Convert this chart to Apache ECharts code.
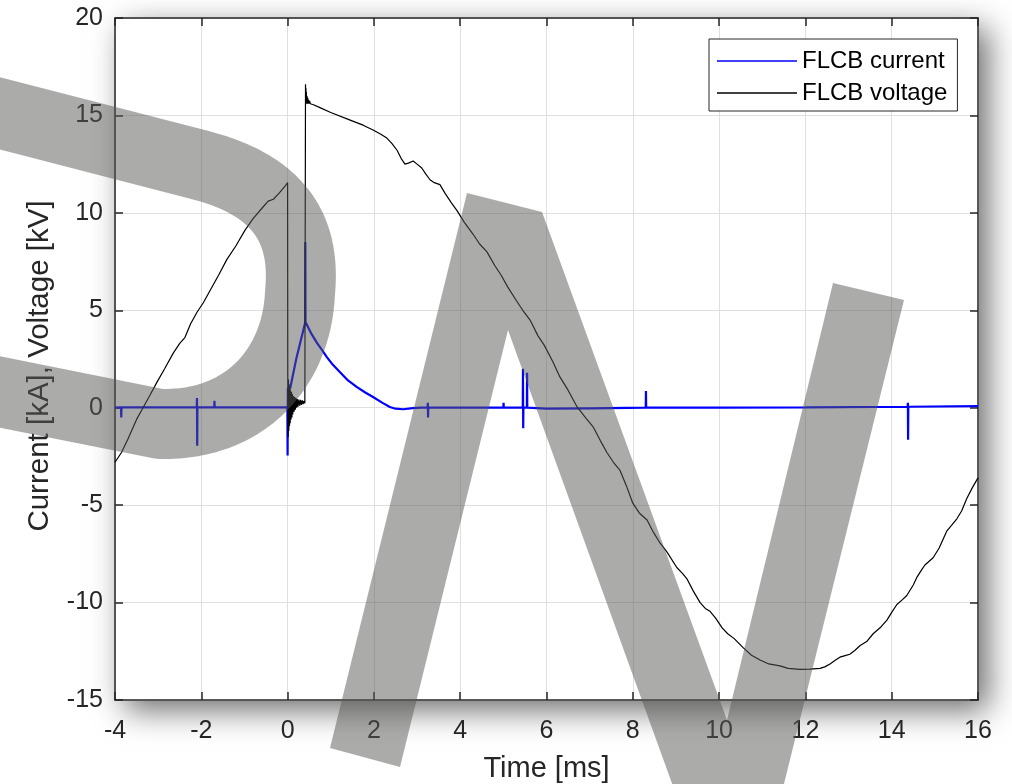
<!DOCTYPE html>
<html>
<head>
<meta charset="utf-8">
<script src="https://cdn.jsdelivr.net/npm/echarts@6/dist/echarts.min.js"></script>
<style>
html,body{margin:0;padding:0;background:#fff;}
#chart{width:1012px;height:784px;}
</style>
</head>
<body>
<div id="chart"></div>
<script>
// ---- data ----
const seriesNames = ['FLCB current', 'FLCB voltage'];
const xTicks = [-4, -2, 0, 2, 4, 6, 8, 10, 12, 14, 16];
const yTicks = [-15, -10, -5, 0, 5, 10, 15, 20];

// FLCB current [kA] vs time [ms]
const currentPts = [
  [-4.0, 0.0], [-3.86, 0.02], [-3.855, -0.5], [-3.85, 0.02], [-3.0, 0.02],
  [-2.105, 0.02], [-2.1, 0.5], [-2.095, -1.95], [-2.09, 0.02],
  [-1.7, 0.02], [-1.695, 0.35], [-1.69, 0.02], [-0.005, 0.02],
  [0.0, -2.45], [0.006, 1.0], [0.06, 1.0], [0.2, 2.5], [0.405, 4.35],
  [0.41, 8.5], [0.415, 4.4], [0.45, 4.3], [0.55, 3.8], [0.68, 3.33],
  [0.8, 2.95], [0.91, 2.6], [1.05, 2.2], [1.21, 1.83], [1.4, 1.4],
  [1.6, 1.07], [1.8, 0.78], [1.98, 0.55], [2.2, 0.25], [2.37, 0.04],
  [2.5, -0.05], [2.68, -0.08], [2.9, -0.02], [3.1, 0.0],
  [3.245, 0.0], [3.25, 0.25], [3.255, -0.5], [3.26, 0.0],
  [4.0, 0.0], [5.0, 0.0], [5.005, 0.25], [5.01, 0.0],
  [5.45, 0.0], [5.455, 2.0], [5.46, -1.05], [5.465, 0.0],
  [5.545, 0.0], [5.55, 1.8], [5.555, 0.0],
  [6.0, -0.05], [7.0, -0.03], [8.3, 0.0], [8.305, 0.86], [8.31, 0.0],
  [10.0, 0.0], [12.0, 0.02], [14.37, 0.05], [14.375, 0.25], [14.38, -1.65],
  [14.385, 0.05], [16.0, 0.08]
];

// FLCB voltage [kV] vs time [ms]
const voltagePts = [
  [-4.0, -2.8], [-3.85, -2.3], [-3.7, -1.6], [-3.5, -0.6], [-3.35, 0.0],
  [-3.2, 0.6], [-3.03, 1.3], [-2.85, 2.0], [-2.65, 2.8], [-2.5, 3.3],
  [-2.38, 3.6], [-2.25, 4.3], [-2.1, 4.9], [-1.95, 5.4], [-1.8, 6.0],
  [-1.6, 6.8], [-1.41, 7.6], [-1.2, 8.3], [-0.99, 9.1], [-0.8, 9.7],
  [-0.57, 10.3], [-0.45, 10.6], [-0.33, 10.7], [-0.2, 11.0], [-0.05, 11.4],
  [0.0, 11.55],
  [0.004, 1.8], [0.012, -1.5], [0.02, 1.45], [0.028, -1.2], [0.036, 1.2],
  [0.044, -0.95], [0.052, 1.0], [0.06, -0.8], [0.07, 0.9], [0.08, -0.6],
  [0.09, 0.8], [0.10, -0.5], [0.11, 0.7], [0.12, -0.35], [0.135, 0.6],
  [0.15, -0.2], [0.165, 0.55], [0.18, -0.1], [0.195, 0.5], [0.21, 0.0],
  [0.225, 0.45], [0.24, 0.05], [0.26, 0.42], [0.28, 0.1], [0.30, 0.4],
  [0.32, 0.15], [0.34, 0.38], [0.36, 0.18], [0.38, 0.35], [0.40, 0.22],
  [0.41, 0.3],
  [0.415, 16.6], [0.42, 15.6], [0.425, 16.4], [0.43, 15.6], [0.435, 16.2],
  [0.442, 15.6], [0.45, 16.0], [0.458, 15.6], [0.467, 15.9], [0.476, 15.6],
  [0.486, 15.8], [0.497, 15.6], [0.51, 15.75], [0.525, 15.6], [0.545, 15.68],
  [0.57, 15.55], [0.6, 15.55],
  [0.75, 15.4], [1.0, 15.15], [1.45, 14.76], [1.75, 14.5], [1.98, 14.25],
  [2.15, 14.05], [2.3, 13.84], [2.42, 13.55], [2.54, 13.2], [2.63, 12.8],
  [2.72, 12.5], [2.8, 12.55], [2.91, 12.66], [3.0, 12.5], [3.11, 12.3],
  [3.2, 12.0], [3.3, 11.7], [3.4, 11.55], [3.53, 11.45], [3.65, 11.0],
  [3.8, 10.5], [3.93, 10.1], [4.1, 9.5], [4.3, 8.9], [4.45, 8.4],
  [4.62, 8.0], [4.8, 7.3], [4.95, 6.8], [5.1, 6.2], [5.3, 5.5],
  [5.45, 5.0], [5.62, 4.5], [5.8, 3.7], [5.95, 3.2], [6.15, 2.35],
  [6.31, 1.58], [6.5, 0.9], [6.71, 0.04], [6.9, -0.5], [7.08, -0.98],
  [7.25, -1.7], [7.40, -2.3], [7.55, -2.8], [7.70, -3.2], [7.85, -4.0],
  [8.0, -4.9], [8.15, -5.4], [8.33, -5.76], [8.48, -6.4], [8.63, -6.94],
  [8.79, -7.4], [9.02, -8.2], [9.15, -8.5], [9.26, -8.8], [9.4, -9.4],
  [9.56, -10.0], [9.68, -10.3], [9.79, -10.45], [9.92, -10.8], [10.07, -11.3],
  [10.2, -11.6], [10.35, -11.85], [10.55, -12.3], [10.75, -12.7], [10.95, -12.95],
  [11.15, -13.15], [11.41, -13.25], [11.6, -13.38], [11.87, -13.43], [12.1, -13.42],
  [12.34, -13.38], [12.45, -13.3], [12.57, -13.15], [12.7, -12.95], [12.8, -12.8],
  [12.92, -12.72], [13.03, -12.65], [13.15, -12.45], [13.27, -12.2], [13.42, -12.0],
  [13.57, -11.6], [13.75, -11.25], [13.89, -10.9], [14.0, -10.5], [14.12, -10.1],
  [14.25, -9.85], [14.35, -9.64], [14.5, -9.1], [14.59, -8.68], [14.7, -8.3],
  [14.77, -8.07], [14.96, -7.7], [15.1, -7.2], [15.28, -6.32], [15.4, -6.0],
  [15.51, -5.7], [15.62, -5.3], [15.74, -4.66], [15.87, -4.1], [16.0, -3.6]
];

// ---- chart ----
const FONT = '"Liberation Sans", Arial, Helvetica, sans-serif';
const AX = '#262626';
const GRIDC = '#dfdfdf';
const WM = 'rgba(89,88,87,0.506)';

// watermark "D" stroke centreline (pixel geometry of the overlay, not data)
function cubicPts(p0, p1, p2, p3, n) {
  const out = [];
  for (let i = 1; i <= n; i++) {
    const t = i / n, u = 1 - t;
    out.push([
      u*u*u*p0[0] + 3*u*u*t*p1[0] + 3*u*t*t*p2[0] + t*t*t*p3[0],
      u*u*u*p0[1] + 3*u*u*t*p1[1] + 3*u*t*t*p2[1] + t*t*t*p3[1]
    ]);
  }
  return out;
}
const dLine = [[-40, 103], [200, 165]]
  .concat(cubicPts([200, 165], [290, 188], [305, 240], [300, 293], 30))
  .concat(cubicPts([300, 293], [297, 365], [248, 426], [160, 424], 30))
  .concat([[-40, 384]]);

const chart = echarts.init(document.getElementById('chart'), null, {renderer: 'canvas'});

function baseX(pos, labels) {
  return {
    type: 'value', min: xTicks[0], max: xTicks[xTicks.length - 1], interval: 2,
    position: pos,
    axisLine: {show: true, onZero: false, lineStyle: {color: AX, width: 1.5}},
    axisTick: {show: true, inside: true, length: 8, lineStyle: {color: AX, width: 1.5}},
    axisLabel: {show: labels, fontSize: 25, color: AX, margin: 19, fontFamily: FONT},
    splitLine: {show: labels, lineStyle: {color: GRIDC, width: 1}}
  };
}
function baseY(pos, labels) {
  return {
    type: 'value', min: yTicks[0], max: yTicks[yTicks.length - 1], interval: 5,
    position: pos,
    axisLine: {show: true, onZero: false, lineStyle: {color: AX, width: 1.5}},
    axisTick: {show: true, inside: true, length: 8, lineStyle: {color: AX, width: 1.5}},
    axisLabel: {show: labels, fontSize: 25, color: AX, margin: 12, fontFamily: FONT},
    splitLine: {show: labels, lineStyle: {color: GRIDC, width: 1}}
  };
}

const xb = baseX('bottom', true);
xb.name = 'Time [ms]';
xb.nameLocation = 'middle';
xb.nameGap = 54;
xb.nameTextStyle = {fontSize: 29, color: AX, fontFamily: FONT};
const xt = baseX('top', false);

const yl = baseY('left', true);
yl.name = 'Current [kA], Voltage [kV]';
yl.nameLocation = 'middle';
yl.nameGap = 60;
yl.nameTextStyle = {fontSize: 29.5, color: AX, fontFamily: FONT, padding: [0, 14, 0, 0]};
const yr = baseY('right', false);

chart.setOption({
  animation: false,
  backgroundColor: '#ffffff',
  textStyle: {fontFamily: FONT},
  grid: {
    left: 115, right: 34, top: 18, bottom: 84,
    containLabel: false, outerBoundsMode: 'none',
    show: true, backgroundColor: '#ffffff', borderWidth: 0,
    shadowColor: 'rgba(0,0,0,0.58)', shadowBlur: 30, shadowOffsetX: 10, shadowOffsetY: 10
  },
  legend: {
    data: seriesNames,
    orient: 'vertical',
    left: 709, top: 39,
    padding: [9, 10, 5, 8],
    itemGap: 6,
    itemWidth: 80, itemHeight: 1.5,
    icon: 'rect',
    backgroundColor: '#ffffff',
    borderColor: AX, borderWidth: 1, borderRadius: 0,
    textStyle: {fontSize: 24, color: '#000', fontFamily: FONT, lineHeight: 26}
  },
  xAxis: [xb, xt],
  yAxis: [yl, yr],
  series: [
    {
      name: seriesNames[0], type: 'line', data: currentPts,
      xAxisIndex: 0, yAxisIndex: 0,
      showSymbol: false, symbol: 'none',
      lineStyle: {color: '#0000ff', width: 2.2},
      itemStyle: {color: '#0000ff'},
      z: 2
    },
    {
      name: seriesNames[1], type: 'line', data: voltagePts,
      xAxisIndex: 0, yAxisIndex: 0,
      showSymbol: false, symbol: 'none',
      lineStyle: {color: '#000000', width: 1.2},
      itemStyle: {color: '#000000'},
      z: 3
    }
  ],
  graphic: {
    elements: [
      {
        type: 'polyline', zlevel: 5, z: 100, silent: true,
        shape: {points: dLine},
        style: {fill: null, stroke: WM, lineWidth: 70, lineCap: 'butt', lineJoin: 'round'}
      },
      {
        type: 'polygon', zlevel: 5, z: 100, silent: true,
        shape: {points: [[330, 748], [467, 193], [542, 212], [727, 720], [833, 283], [904, 300],
                         [780, 800], [678, 800], [508, 330], [400, 767]]},
        style: {fill: WM}
      }
    ]
  }
});
</script>
</body>
</html>
